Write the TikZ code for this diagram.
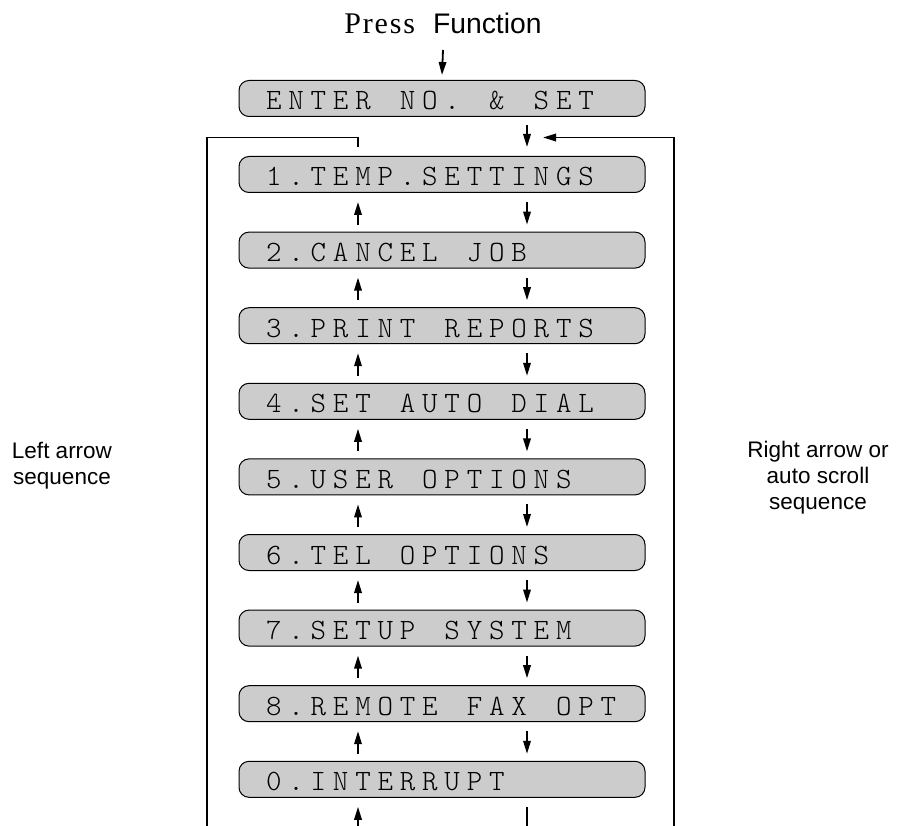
\documentclass[tikz,border=0pt]{standalone}
\usepackage{fontspec}
\usetikzlibrary{arrows.meta}
\newfontfamily\sansf{Liberation Sans}
\newfontfamily\serff[LetterSpace=6]{Liberation Serif}
\newfontfamily\lcdf{lmmonolt10-regular}[Extension=.otf]
\makeatletter
\def\lcd@end{\lcd@end}
\newcommand\lcd[1]{{\lcdf\fontsize{29.5}{30}\selectfont\lcd@loop#1\lcd@end}}
\def\lcd@loop#1{\ifx#1\lcd@end\else\lcd@char{#1}\expandafter\lcd@loop\fi}
\def\lcd@char#1{\ifx~#1\hspace*{22.3pt}\else\makebox[22.3pt]{#1}\fi}
\makeatother
\definecolor{lcdgray}{RGB}{204,204,204}
\tikzset{
  lcd/.style={draw=black, line width=1pt, fill=lcdgray, rounded corners=10pt,
    minimum width=406pt, minimum height=36pt, inner sep=0pt},
  lcdtext/.style={anchor=base west, inner sep=0pt},
  seq/.style={line width=1.8pt, -{Triangle[length=13pt,width=7.5pt]}},
  framel/.style={line width=1.8pt},
  side/.style={align=center, inner sep=0pt, font=\sansf\fontsize{22.5}{26}\selectfont}
}
\begin{document}
\begin{tikzpicture}[x=1pt,y=-1pt]
\useasboundingbox (0,0) rectangle (897,826);
% title
\node[anchor=base, inner sep=0pt] (title) at (443,34)
  {{\serff\fontsize{30}{32}\selectfont Press}\hspace{18pt}{\sansf\fontsize{28.3}{30}\selectfont Function}};
% boxes
\node[lcd] (e) at (442,98.5) {};
\foreach \n/\t [count=\i from 0] in {b1/1.TEMP.SETTINGS, b2/2.CANCEL~JOB, b3/3.PRINT~REPORTS,
   b4/4.SET~AUTO~DIAL, b5/5.USER~OPTIONS, b6/6.TEL~OPTIONS, b7/7.SETUP~SYSTEM,
   b8/8.REMOTE~FAX~OPT, b0/0.INTERRUPT}{
  \node[lcd] (\n) at (442,174.5+75.6*\i) {};
  \node[lcdtext] (\n t) at ([xshift=24pt,yshift=-11.5pt]\n.west) {\expandafter\lcd\expandafter{\t}};
}
\node[lcdtext] (et) at ([xshift=24pt,yshift=-11.5pt]e.west) {\lcd{ENTER~NO.~\&~SET}};
% title arrow
\draw[seq] ([yshift=-16pt]title.base) -- ([yshift=5pt]e.north);
% arrows between boxes
\foreach \u/\l in {b1/b2, b2/b3, b3/b4, b4/b5, b5/b6, b6/b7, b7/b8, b8/b0}{
  \draw[seq] ([xshift=-84pt,yshift=7pt]\l.north) -- ([xshift=-84pt,yshift=-9pt]\u.south);
  \draw[seq] ([xshift=85pt,yshift=-9pt]\u.south) -- ([xshift=85pt,yshift=7pt]\l.north);
}
% entry arrow
\draw[seq] ([xshift=85pt,yshift=-8pt]e.south) -- ([xshift=85pt,yshift=9pt]b1.north);
% left frame
\coordinate (lt) at ([xshift=-84pt,yshift=8.5pt]b1.north);
\coordinate (lc) at (358,137.5);
\coordinate (ll) at (207,137.5);
\coordinate (lb) at (207,826);
\draw[framel] (lt) -- (lc) -- (ll) -- (lb);
% right frame
\coordinate (rb) at (674,826);
\coordinate (rt) at (674,137.5);
\coordinate (rtip) at (543,137.5);
\draw[framel] (rb) -- (rt);
\draw[seq] (rt) -- (rtip);
% bottom
\coordinate (bl) at (358,826);
\coordinate (br) at (527,826);
\draw[seq] (bl) -- ([xshift=-84pt,yshift=-9pt]b0.south);
\draw[framel] ([xshift=85pt,yshift=-9pt]b0.south) -- (br);
% side texts
\node[side] (lefttxt) at (62,466) {Left arrow\\sequence};
\node[side] (righttxt) at (818,478) {Right arrow or\\auto scroll\\sequence};
\end{tikzpicture}
\end{document}
